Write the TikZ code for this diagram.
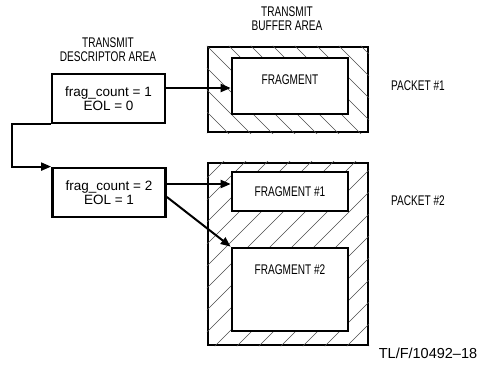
\documentclass[tikz,border=0pt]{standalone}
\usepackage{fontspec}
\setmainfont{Liberation Sans}
\newfontfamily\cadfont{Liberation Sans}[FakeStretch=0.72]
\usetikzlibrary{arrows.meta}
\usetikzlibrary{positioning}

\tikzset{
    descbox/.style={draw, line width=2.8pt, minimum width=113pt, minimum height=49pt,
        inner sep=0pt, align=center, font=\fontsize{13.5}{14}\selectfont},
    bufbox/.style={draw, line width=2.4pt, inner sep=0pt},
    fragbox/.style={draw, fill=white, line width=2.6pt, inner sep=0pt, minimum width=116pt},
    caption/.style={align=center, font=\cadfont\fontsize{14}{14}\selectfont},
    hatch/.style={line width=0.45pt, black!70},
    arr/.style={line width=2pt, -{Triangle[length=10pt,width=8pt]}}
}

\begin{document}
\begin{tikzpicture}[x=1pt,y=-1pt]
        \useasboundingbox (0,0) rectangle (479,369);

        % headers
        \node[caption] (deschead) at (108,50) {TRANSMIT\\DESCRIPTOR AREA};
        \node[caption] (bufhead) at (287,19) {TRANSMIT\\BUFFER AREA};

        % descriptors
        \node[descbox] (desc1) at (108.5,98.5) {frag\_count = 1\\EOL = 0};
        \node[descbox] (desc2) at (109,192.5) {frag\_count = 2\\EOL = 1};

        % buffer areas
        \node[bufbox, minimum width=160pt, minimum height=85pt] (buf1) at (288,89.5) {};
        \node[bufbox, minimum width=160pt, minimum height=182pt] (buf2) at (288,254) {};
        \begin{scope}
            \clip (buf1.south west) rectangle (buf1.north east);
            \foreach \k in {-5,...,8}
                \draw[hatch] ([xshift=\k*22pt]buf1.north west) -- ++(100,100);
        \end{scope}
        \begin{scope}
            \clip (buf2.south west) rectangle (buf2.north east);
            \foreach \k in {-1,...,16}
                \draw[hatch] ([xshift=\k*22pt-190pt]buf2.south west) -- ++(190,-190);
        \end{scope}

        % fragments
        \node[fragbox, minimum height=56pt,
            label={[caption, anchor=north, yshift=-14pt]north:FRAGMENT}] (frag1) at (290,86) {};
        \node[fragbox, minimum height=39pt, caption] (frag2a) at (290,191.5) {FRAGMENT \#1};
        \node[fragbox, minimum height=83pt,
            label={[caption, anchor=north, yshift=-14pt]north:FRAGMENT \#2}] (frag2b) at (290,289.5) {};

        \node[caption] (pkt1) at (418,86) {PACKET \#1};
        \node[caption] (pkt2) at (418,201) {PACKET \#2};
        \node[font=\fontsize{14.5}{15}\selectfont] (figid) at (428,353) {TL/F/10492--18};

        % pointers
        \draw[arr] ([yshift=10.5pt]desc1.east) coordinate (p1) -- (p1 -| frag1.west);
        \draw[arr] (desc1.south west) -- ++(-39,0) |- (desc2.north west);
        \draw[arr] ([yshift=8.5pt]desc2.east) coordinate (p2) -- (p2 -| frag2a.west);
        \draw[arr] ([yshift=-4.5pt]desc2.east) -- (frag2b.north west);
    \end{tikzpicture}
\end{document}
